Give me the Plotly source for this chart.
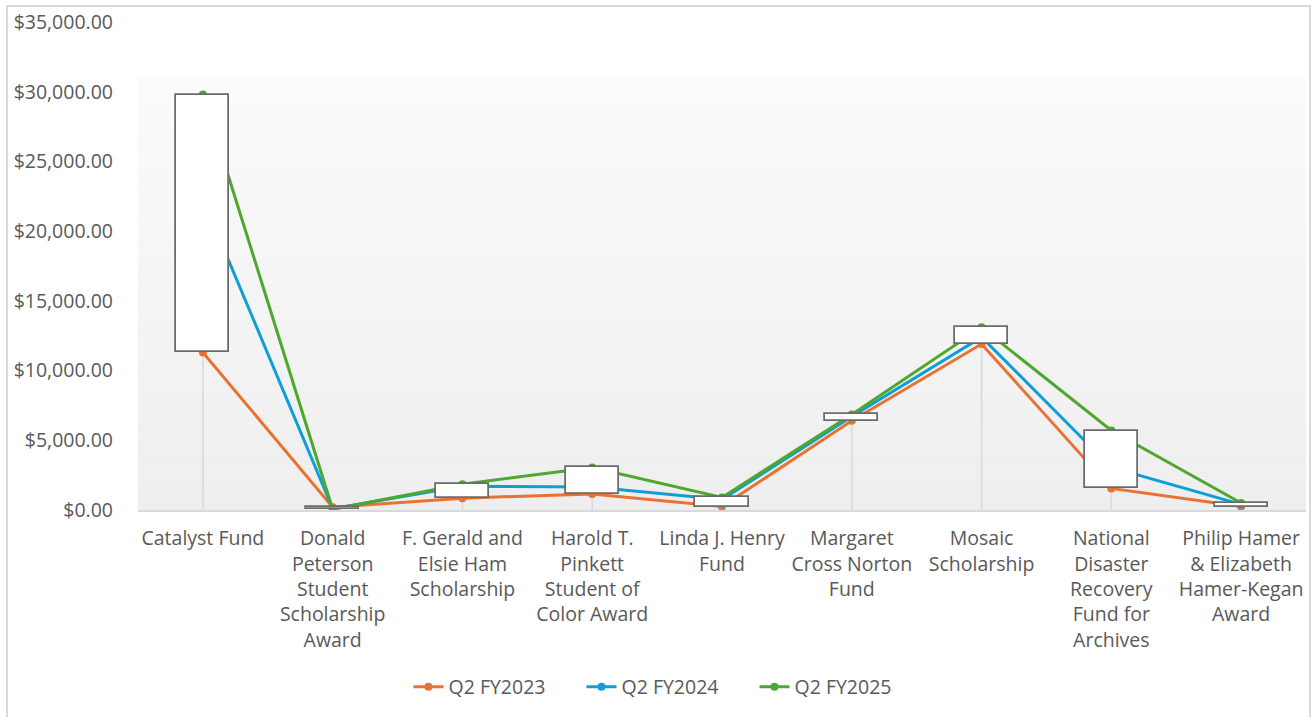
import plotly.graph_objects as go

categories = [
    "Catalyst Fund",
    "Donald<br>Peterson<br>Student<br>Scholarship<br>Award",
    "F. Gerald and<br>Elsie Ham<br>Scholarship",
    "Harold T.<br>Pinkett<br>Student of<br>Color Award",
    "Linda J. Henry<br>Fund",
    "Margaret<br>Cross Norton<br>Fund",
    "Mosaic<br>Scholarship",
    "National<br>Disaster<br>Recovery<br>Fund for<br>Archives",
    "Philip Hamer<br>& Elizabeth<br>Hamer-Kegan<br>Award",
]
q2_fy2023 = [11300, 200, 850, 1150, 250, 6400, 11900, 1550, 250]
q2_fy2024 = [22300, 100, 1700, 1650, 750, 6700, 12400, 3050, 400]
q2_fy2025 = [29800, 50, 1850, 3050, 900, 6850, 13100, 5700, 500]

series = [
    ("Q2 FY2023", q2_fy2023, "#E97132"),
    ("Q2 FY2024", q2_fy2024, "#0F9ED5"),
    ("Q2 FY2025", q2_fy2025, "#4EA72E"),
]

W, H = 1313, 717
L, R, T, B = 138, 7, 22, 207
PW, PH = W - L - R, H - T - B
YMAX = 35000

def px_x(p):
    return (p - L) / PW

def px_y(p):
    return (H - B - p) / PH

fig = go.Figure()

# drop lines (from highest value down to the axis)
dx, dy = [], []
for i, c in enumerate(categories):
    dx += [c, c, None]
    dy += [0, max(q2_fy2023[i], q2_fy2024[i], q2_fy2025[i]), None]
fig.add_trace(go.Scatter(x=dx, y=dy, mode="lines", line=dict(color="#d9d9d9", width=1.5),
                         hoverinfo="skip", showlegend=False, xaxis="x", yaxis="y"))

for name, vals, col in series:
    fig.add_trace(go.Scatter(
        x=categories, y=vals, name=name, mode="lines+markers",
        line=dict(color=col, width=3), marker=dict(color=col, size=8, symbol="circle"),
        xaxis="x", yaxis="y",
    ))

# up/down bars between first and last series
base = [min(a, b) for a, b in zip(q2_fy2023, q2_fy2025)]
height = [abs(b - a) for a, b in zip(q2_fy2023, q2_fy2025)]
fig.add_trace(go.Bar(
    x=categories, y=height, base=base, width=0.41,
    marker=dict(color="white", line=dict(color="#6b6b6b", width=1.75)),
    showlegend=False, hoverinfo="skip", xaxis="x", yaxis="y2",
))

# plot-area gradient
shapes = []
g_top = px_y(77)
n = 40
c0, c1 = 0xfb, 0xee
for k in range(n):
    y0 = g_top * k / n
    y1 = g_top * (k + 1) / n
    v = round(c1 + (c0 - c1) * (k + 0.5) / n)
    shapes.append(dict(type="rect", xref="paper", yref="paper", x0=0, x1=1, y0=y0, y1=y1,
                       fillcolor=f"rgb({v},{v},{v})", line=dict(width=0), layer="below"))
# chart border
shapes.append(dict(type="rect", xref="paper", yref="paper",
                   x0=px_x(7), x1=px_x(1310), y0=px_y(6), y1=px_y(760),
                   line=dict(color="#d9d9d9", width=2), fillcolor="rgba(0,0,0,0)", layer="above"))

font_family = "Open Sans, Liberation Sans, sans-serif"
FS = 19.5
fig.update_layout(
    width=W, height=H,
    margin=dict(l=L, r=R, t=T, b=B, autoexpand=False),
    paper_bgcolor="white", plot_bgcolor="rgba(0,0,0,0)",
    font=dict(family=font_family, size=FS, color="#595959"),
    shapes=shapes,
    bargap=0,
    xaxis=dict(type="category", range=[-0.5, len(categories) - 0.5], showgrid=False,
               showline=True, linecolor="#d9d9d9", linewidth=1.5, ticks="",
               tickfont=dict(size=FS, color="#595959"), ticklabelstandoff=10, zeroline=False),
    yaxis=dict(range=[0, YMAX], dtick=5000, tickprefix="$", tickformat=",.2f",
               showgrid=False, zeroline=False, showline=False, ticks="",
               tickfont=dict(size=FS, color="#595959"), ticklabelstandoff=24),
    yaxis2=dict(range=[0, YMAX], overlaying="y", visible=False, showgrid=False, zeroline=False),
    legend=dict(orientation="h", x=px_x(668), xanchor="center", y=px_y(687), yanchor="middle",
                font=dict(size=FS, color="#595959"), bgcolor="rgba(0,0,0,0)",
                entrywidth=128, entrywidthmode="pixels"),
)

fig.write_html("out.html", config={"displayModeBar": False},
               post_script="document.body.style.margin='0px';")
